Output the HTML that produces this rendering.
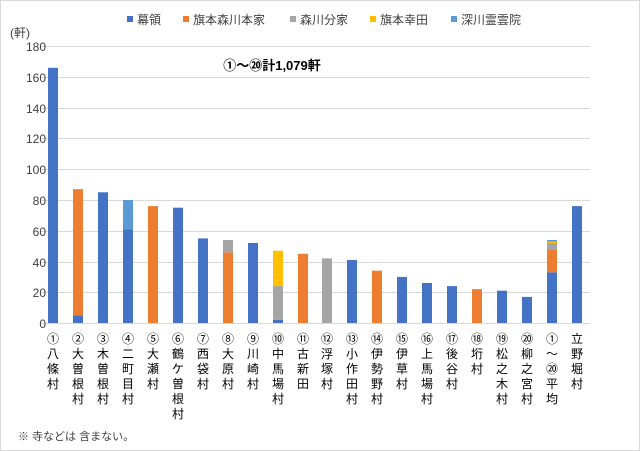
<!DOCTYPE html>
<html><head><meta charset="utf-8"><style>
body{margin:0;background:#fff}
svg{display:block;font-family:"Liberation Sans","Noto Sans CJK JP",sans-serif}
</style></head><body>
<svg width="640" height="451" viewBox="0 0 640 451">
<rect x="0.5" y="0.5" width="639" height="450" fill="#fff" stroke="#d9d9d9"/>
<g stroke="#d9d9d9" stroke-width="1">
<line x1="41" x2="590" y1="46.5" y2="46.5"/><line x1="41" x2="590" y1="77.5" y2="77.5"/>
<line x1="41" x2="590" y1="108.5" y2="108.5"/><line x1="41" x2="590" y1="138.5" y2="138.5"/>
<line x1="41" x2="590" y1="169.5" y2="169.5"/><line x1="41" x2="590" y1="200.5" y2="200.5"/>
<line x1="41" x2="590" y1="231.5" y2="231.5"/><line x1="41" x2="590" y1="262.5" y2="262.5"/>
<line x1="41" x2="590" y1="292.5" y2="292.5"/><line x1="41" x2="590" y1="323.5" y2="323.5"/>
</g>
<g font-size="12" fill="#404040" text-anchor="end">
<text x="46" y="51">180</text><text x="46" y="82">160</text><text x="46" y="113">140</text>
<text x="46" y="143">120</text><text x="46" y="174">100</text><text x="46" y="205">80</text>
<text x="46" y="236">60</text><text x="46" y="267">40</text><text x="46" y="297">20</text>
<text x="46" y="328">0</text>
</g>
<text x="10" y="37" font-size="12" fill="#404040">(軒)</text>
<g font-size="12" fill="#404040">
<rect x="127" y="16" width="6" height="6" fill="#4472C4"/><text x="137" y="24">幕領</text>
<rect x="183" y="16" width="6" height="6" fill="#ED7D31"/><text x="193" y="24">旗本森川本家</text>
<rect x="290" y="16" width="6" height="6" fill="#A5A5A5"/><text x="300" y="24">森川分家</text>
<rect x="370" y="16" width="6" height="6" fill="#FFC000"/><text x="380" y="24">旗本幸田</text>
<rect x="451" y="16" width="6" height="6" fill="#5B9BD5"/><text x="461" y="24">深川霊雲院</text>
</g>
<text x="272" y="70" font-size="13" font-weight="bold" fill="#000" text-anchor="middle">①～⑳計1,079軒</text>
<g>
<rect x="48" y="67.8" width="10" height="255.2" fill="#4472C4"/>
<rect x="73" y="315.3" width="10" height="7.7" fill="#4472C4"/><rect x="73" y="189.2" width="10" height="126.1" fill="#ED7D31"/>
<rect x="98" y="192.3" width="10" height="130.7" fill="#4472C4"/>
<rect x="123" y="229.2" width="10" height="93.8" fill="#4472C4"/><rect x="123" y="200" width="10" height="29.2" fill="#5B9BD5"/>
<rect x="148" y="206.1" width="10" height="116.9" fill="#ED7D31"/>
<rect x="173" y="207.7" width="10" height="115.3" fill="#4472C4"/>
<rect x="198" y="238.4" width="10" height="84.6" fill="#4472C4"/>
<rect x="223" y="252.3" width="10" height="70.7" fill="#ED7D31"/><rect x="223" y="240" width="10" height="12.3" fill="#A5A5A5"/>
<rect x="248" y="243" width="10" height="80" fill="#4472C4"/>
<rect x="273" y="319.9" width="10" height="3.1" fill="#4472C4"/><rect x="273" y="286.1" width="10" height="33.8" fill="#A5A5A5"/><rect x="273" y="250.7" width="10" height="35.4" fill="#FFC000"/>
<rect x="298" y="253.8" width="10" height="69.2" fill="#ED7D31"/>
<rect x="322" y="258.4" width="10" height="64.6" fill="#A5A5A5"/>
<rect x="347" y="260" width="10" height="63" fill="#4472C4"/>
<rect x="372" y="270.7" width="10" height="52.3" fill="#ED7D31"/>
<rect x="397" y="276.9" width="10" height="46.1" fill="#4472C4"/>
<rect x="422" y="283" width="10" height="40" fill="#4472C4"/>
<rect x="447" y="286.1" width="10" height="36.9" fill="#4472C4"/>
<rect x="472" y="289.2" width="10" height="33.8" fill="#ED7D31"/>
<rect x="497" y="290.7" width="10" height="32.3" fill="#4472C4"/>
<rect x="522" y="296.9" width="10" height="26.1" fill="#4472C4"/>
<rect x="547" y="272.3" width="10" height="50.7" fill="#4472C4"/><rect x="547" y="249.2" width="10" height="23.1" fill="#ED7D31"/><rect x="547" y="243" width="10" height="6.2" fill="#A5A5A5"/><rect x="547" y="241.5" width="10" height="1.5" fill="#FFC000"/><rect x="547" y="240" width="10" height="1.5" fill="#5B9BD5"/>
<rect x="572" y="206.1" width="10" height="116.9" fill="#4472C4"/>
</g>
<g font-size="12" fill="#000" text-anchor="middle">
<text x="53" y="343">①<tspan x="53" dy="15">八</tspan><tspan x="53" dy="15">條</tspan><tspan x="53" dy="15">村</tspan></text>
<text x="78" y="343">②<tspan x="78" dy="15">大</tspan><tspan x="78" dy="15">曽</tspan><tspan x="78" dy="15">根</tspan><tspan x="78" dy="15">村</tspan></text>
<text x="103" y="343">③<tspan x="103" dy="15">木</tspan><tspan x="103" dy="15">曽</tspan><tspan x="103" dy="15">根</tspan><tspan x="103" dy="15">村</tspan></text>
<text x="128" y="343">④<tspan x="128" dy="15">二</tspan><tspan x="128" dy="15">町</tspan><tspan x="128" dy="15">目</tspan><tspan x="128" dy="15">村</tspan></text>
<text x="153" y="343">⑤<tspan x="153" dy="15">大</tspan><tspan x="153" dy="15">瀬</tspan><tspan x="153" dy="15">村</tspan></text>
<text x="178" y="343">⑥<tspan x="178" dy="15">鶴</tspan><tspan x="178" dy="15">ケ</tspan><tspan x="178" dy="15">曽</tspan><tspan x="178" dy="15">根</tspan><tspan x="178" dy="15">村</tspan></text>
<text x="203" y="343">⑦<tspan x="203" dy="15">西</tspan><tspan x="203" dy="15">袋</tspan><tspan x="203" dy="15">村</tspan></text>
<text x="228" y="343">⑧<tspan x="228" dy="15">大</tspan><tspan x="228" dy="15">原</tspan><tspan x="228" dy="15">村</tspan></text>
<text x="253" y="343">⑨<tspan x="253" dy="15">川</tspan><tspan x="253" dy="15">崎</tspan><tspan x="253" dy="15">村</tspan></text>
<text x="278" y="343">⑩<tspan x="278" dy="15">中</tspan><tspan x="278" dy="15">馬</tspan><tspan x="278" dy="15">場</tspan><tspan x="278" dy="15">村</tspan></text>
<text x="303" y="343">⑪<tspan x="303" dy="15">古</tspan><tspan x="303" dy="15">新</tspan><tspan x="303" dy="15">田</tspan></text>
<text x="327" y="343">⑫<tspan x="327" dy="15">浮</tspan><tspan x="327" dy="15">塚</tspan><tspan x="327" dy="15">村</tspan></text>
<text x="352" y="343">⑬<tspan x="352" dy="15">小</tspan><tspan x="352" dy="15">作</tspan><tspan x="352" dy="15">田</tspan><tspan x="352" dy="15">村</tspan></text>
<text x="377" y="343">⑭<tspan x="377" dy="15">伊</tspan><tspan x="377" dy="15">勢</tspan><tspan x="377" dy="15">野</tspan><tspan x="377" dy="15">村</tspan></text>
<text x="402" y="343">⑮<tspan x="402" dy="15">伊</tspan><tspan x="402" dy="15">草</tspan><tspan x="402" dy="15">村</tspan></text>
<text x="427" y="343">⑯<tspan x="427" dy="15">上</tspan><tspan x="427" dy="15">馬</tspan><tspan x="427" dy="15">場</tspan><tspan x="427" dy="15">村</tspan></text>
<text x="452" y="343">⑰<tspan x="452" dy="15">後</tspan><tspan x="452" dy="15">谷</tspan><tspan x="452" dy="15">村</tspan></text>
<text x="477" y="343">⑱<tspan x="477" dy="15">垳</tspan><tspan x="477" dy="15">村</tspan></text>
<text x="502" y="343">⑲<tspan x="502" dy="15">松</tspan><tspan x="502" dy="15">之</tspan><tspan x="502" dy="15">木</tspan><tspan x="502" dy="15">村</tspan></text>
<text x="527" y="343">⑳<tspan x="527" dy="15">柳</tspan><tspan x="527" dy="15">之</tspan><tspan x="527" dy="15">宮</tspan><tspan x="527" dy="15">村</tspan></text>
<text x="552" y="343">①<tspan x="552" dy="15">～</tspan><tspan x="552" dy="15">⑳</tspan><tspan x="552" dy="15">平</tspan><tspan x="552" dy="15">均</tspan></text>
<text x="577" y="343">立<tspan x="577" dy="15">野</tspan><tspan x="577" dy="15">堀</tspan><tspan x="577" dy="15">村</tspan></text>
</g>
<text x="18" y="440" font-size="11" fill="#404040">※ 寺などは 含まない。</text>
</svg>
</body></html>
